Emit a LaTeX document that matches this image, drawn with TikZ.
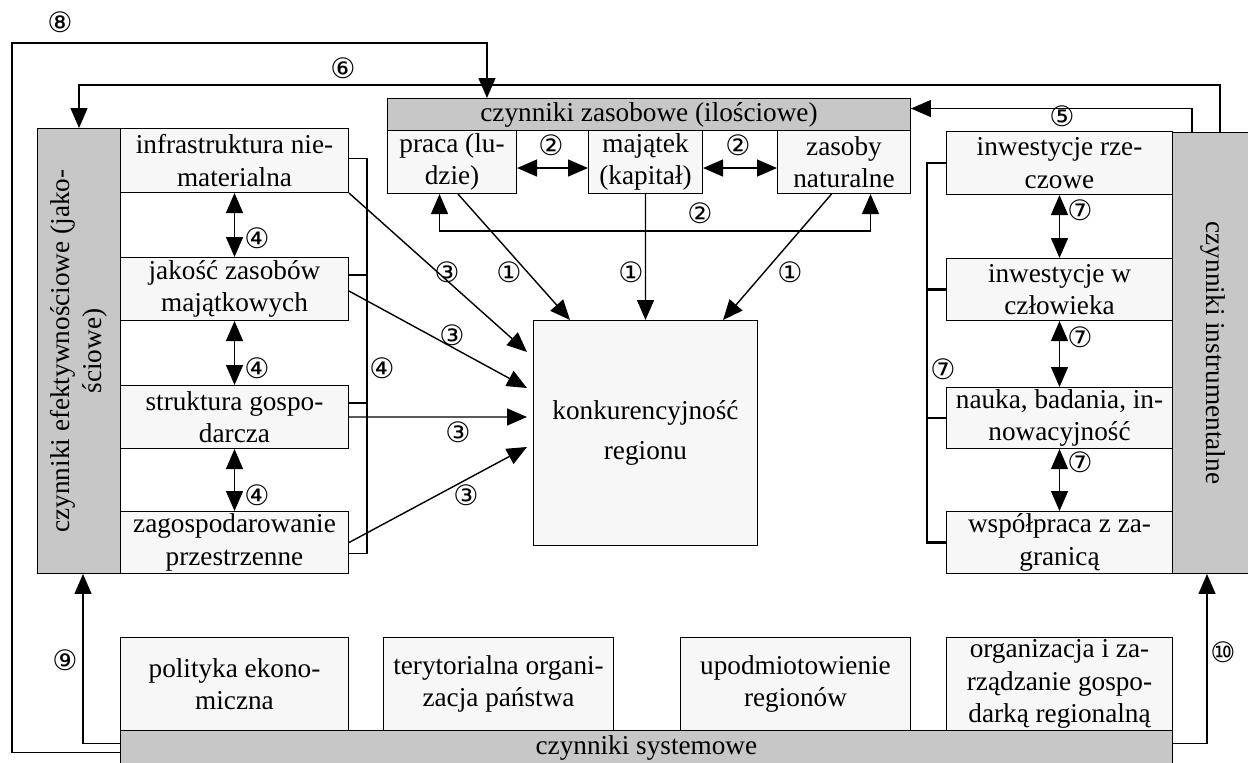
\documentclass[tikz,border=0pt]{standalone}
\usepackage{fontspec}
\setmainfont{Liberation Serif}
\newfontfamily\circfont{DejaVu Sans}
\usetikzlibrary{arrows.meta,positioning}

\begin{document}
\begin{tikzpicture}[
    x=0.02cm, y=-0.02cm,
    font=\fontsize{15.5}{18.5}\selectfont,
    box/.style={
        rectangle,
        draw,
        fill=black!3,
        align=center,
        anchor=north west,
        inner sep=1pt,
        line width=0.6pt
    },
    greybox/.style={
        box, fill=black!22
    },
    line/.style={
        draw, -{Triangle[length=0.4cm,width=0.34cm]}, line width=0.8pt
    },
    dline/.style={
        draw, {Triangle[length=0.4cm,width=0.34cm]}-{Triangle[length=0.4cm,width=0.34cm]}, line width=0.8pt
    },
    plain/.style={
        draw, line width=0.8pt
    },
    num/.style={
        font=\circfont\fontsize{16}{18}\selectfont, inner sep=0pt
    }
]
    \useasboundingbox (0,0) rectangle (1248,762);

    % Nodes
    \node [greybox, minimum width=10.46cm, minimum height=0.64cm] (zasob) at (387,98) {czynniki zasobowe (ilościowe)};
    \node [box, minimum width=2.58cm, minimum height=1.26cm] (praca) at (387,130) {praca (lu-\\dzie)};
    \node [box, minimum width=2.28cm, minimum height=1.26cm] (majatek) at (588,130) {majątek\\(kapitał)};
    \node [box, minimum width=2.66cm, minimum height=1.26cm] (zasoby) at (777,130) {zasoby\\naturalne};

    \node [box, minimum width=4.48cm, minimum height=4.5cm] (konk) at (533,320) {konkurencyjność\\[4pt]regionu};

    \node [greybox, minimum width=1.66cm, minimum height=8.9cm] (effcol) at (37,128) {};
    \node [rotate=90, align=center] at (effcol.center) {czynniki efektywnościowe (jako-\\ściowe)};
    \node [box, minimum width=4.56cm, minimum height=1.28cm] (infra) at (120,128) {infrastruktura nie-\\materialna};
    \node [box, minimum width=4.56cm, minimum height=1.26cm] (jakosc) at (120,257) {jakość zasobów\\majątkowych};
    \node [box, minimum width=4.56cm, minimum height=1.26cm] (struktura) at (120,385) {struktura gospo-\\darcza};
    \node [box, minimum width=4.56cm, minimum height=1.24cm] (zagosp) at (120,511) {zagospodarowanie\\przestrzenne};

    \node [greybox, minimum width=1.6cm, minimum height=8.82cm] (instr) at (1172,132) {};
    \node [rotate=-90] at (instr.center) {czynniki instrumentalne};
    \node [box, minimum width=4.52cm, minimum height=1.26cm] (rzecz) at (946,131) {inwestycje rze-\\czowe};
    \node [box, minimum width=4.52cm, minimum height=1.24cm] (czlow) at (946,258) {inwestycje w\\człowieka};
    \node [box, minimum width=4.52cm, minimum height=1.22cm] (nauka) at (946,387) {nauka, badania, in-\\nowacyjność};
    \node [box, minimum width=4.52cm, minimum height=1.24cm] (wspol) at (946,511) {współpraca z za-\\granicą};

    \node [box, minimum width=4.56cm, minimum height=1.86cm] (polit) at (120,637) {polityka ekono-\\miczna};
    \node [box, minimum width=4.6cm, minimum height=1.86cm] (teryt) at (383,637) {terytorialna organi-\\zacja państwa};
    \node [box, minimum width=4.6cm, minimum height=1.86cm] (upodm) at (680,637) {upodmiotowienie\\regionów};
    \node [box, minimum width=4.52cm, minimum height=1.86cm] (organ) at (946,637) {organizacja i za-\\rządzanie gospo-\\darką regionalną};
    \node [greybox, minimum width=21.04cm, minimum height=0.68cm] (system) at (120,730) {czynniki systemowe};

    \coordinate (corner) at (12,43);

    % Edges
    \path [line] ([xshift=0.12cm]praca.south) -- ([xshift=0.74cm]konk.north west);
    \path [line] (majatek.south) -- (konk.north);
    \path [line] ([xshift=-0.25cm]zasoby.south) -- ([xshift=-0.7cm]konk.north east);

    \path [dline] ([yshift=-0.12cm]praca.east) -- ([yshift=-0.12cm]praca.east -| majatek.west);
    \path [dline] ([yshift=-0.12cm]majatek.east) -- ([yshift=-0.12cm]majatek.east -| zasoby.west);
    \path [dline] ([xshift=-0.25cm]praca.south) -- ++(0,37) -| ([xshift=0.53cm]zasoby.south);

    \path [line] (infra.south east) -- ([xshift=-0.12cm,yshift=-0.64cm]konk.north west);
    \path [line] ([yshift=-0.04cm]jakosc.east) -- ([xshift=-0.12cm,yshift=-1.36cm]konk.north west);
    \path [line] (struktura.east) -- ([xshift=-0.12cm,yshift=-1.94cm]konk.north west);
    \path [line] (zagosp.east) -- ([xshift=-0.12cm,yshift=-2.54cm]konk.north west);

    \path [dline] (infra.south) -- (jakosc.north);
    \path [dline] (jakosc.south) -- (struktura.north);
    \path [dline] (struktura.south) -- (zagosp.north);
    \path [plain] ([yshift=0.04cm]infra.east) -- ++(18,0) |- ([yshift=-0.22cm]zagosp.east);
    \path [plain] ([yshift=0.28cm]jakosc.east) -- ++(18,0);
    \path [plain] ([yshift=0.28cm]struktura.east) -- ++(18,0);

    \path [dline] (rzecz.south) -- (czlow.north);
    \path [dline] (czlow.south) -- (nauka.north);
    \path [dline] (nauka.south) -- (wspol.north);
    \path [plain, line width=1.3pt] (rzecz.west) -- ++(-19,0) |- (wspol.west);
    \path [plain, line width=1.3pt] (czlow.west) -- ++(-19,0);
    \path [plain, line width=1.3pt] (nauka.west) -- ++(-19,0);

    \path [line] ([xshift=0.4cm]instr.north west) |- ([yshift=0.12cm]zasob.east);
    \path [line] ([xshift=0.96cm]instr.north west) -- ++(0,-47) -| (effcol.north);
    \path [line] ([yshift=-0.1cm]system.west) -| (corner) -| ([xshift=2cm]zasob.north west);
    \path [line] ([yshift=0.08cm]system.west) -| ([xshift=0.08cm]effcol.south);
    \path [line] ([yshift=0.08cm]system.east) -| ([xshift=0.7cm]instr.south west);

    % Labels
    \node [num] at (60,22) {⑧};
    \node [num] at (343,68) {⑥};
    \node [num] at (1062,116) {⑤};
    \node [num] at (551,145) {②};
    \node [num] at (738,145) {②};
    \node [num] at (700,213) {②};
    \node [num] at (509,272) {①};
    \node [num] at (631,272) {①};
    \node [num] at (790,272) {①};
    \node [num] at (447,272) {③};
    \node [num] at (452,335) {③};
    \node [num] at (458,432) {③};
    \node [num] at (466,495) {③};
    \node [num] at (257,238) {④};
    \node [num] at (257,368) {④};
    \node [num] at (257,495) {④};
    \node [num] at (382,368) {④};
    \node [num] at (1080,210) {⑦};
    \node [num] at (1080,337) {⑦};
    \node [num] at (1080,462) {⑦};
    \node [num] at (943,369) {⑦};
    \node [num] at (65,660) {⑨};
    \node [num] at (1223,652) {⑩};

\end{tikzpicture}
\end{document}
